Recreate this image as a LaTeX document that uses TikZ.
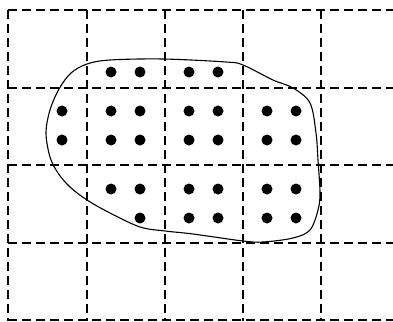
\documentclass[tikz,border=0pt]{standalone}
\usetikzlibrary{calc}

\begin{document}
\begin{tikzpicture}[x=1pt, y=-1pt,
    gridline/.style={line width=2.4pt, dash pattern=on 9pt off 5pt},
    dot/.style={fill=black}]
        \useasboundingbox (0,0) rectangle (393,321);
        % Dashed grid
        \foreach \y in {10,88,165,243,320}
            \draw [gridline] (8,\y) -- (393,\y);
        \foreach \x in {8,87,165,243,321}
            \draw [gridline] (\x,10) -- (\x,321);
        % Region boundary
        \draw [line width=1.1pt] plot[smooth cycle, tension=0.55] coordinates {
            (87,64) (110,60) (163,59) (226,62) (243,65) (273,80) (293,88)
            (310,103) (316,133) (318,160) (320,193) (318,210) (310,230)
            (293,238) (263,242) (243,241) (193,234) (165,231) (140,227)
            (110,213) (87,200) (70,187) (58,173) (50,157) (46,133)
            (50,110) (59,89) (71,73)};
        % Lattice points
        \foreach \x in {111,140,189,218}
            \fill [dot] (\x,72) circle (5.5);
        \foreach \y in {111,140} {
            \foreach \x in {62,111,140,189,218,267,296}
                \fill [dot] (\x,\y) circle (5.5);
        }
        \foreach \x in {111,140,189,218,267,296}
            \fill [dot] (\x,189) circle (5.5);
        \foreach \x in {140,189,218,267,296}
            \fill [dot] (\x,218) circle (5.5);
    \end{tikzpicture}
\end{document}
